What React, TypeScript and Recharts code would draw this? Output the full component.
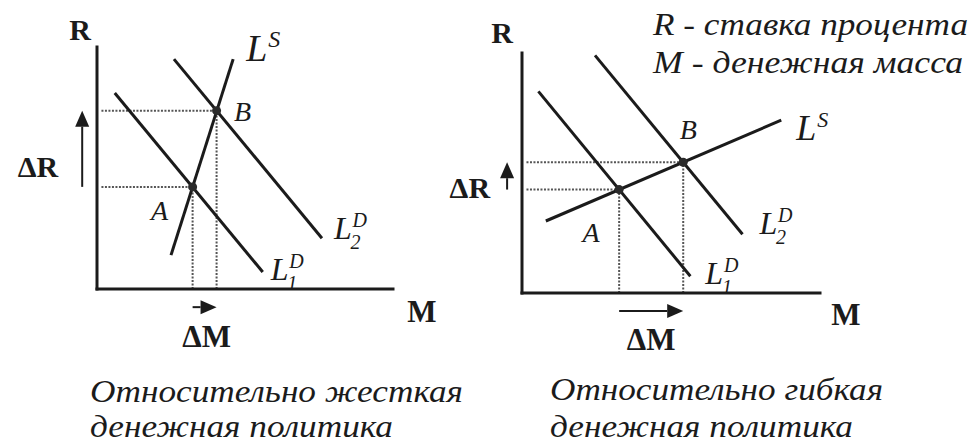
import React from 'react';
import { ComposedChart, Line, XAxis, YAxis, ReferenceLine, ReferenceDot } from 'recharts';

// both panels use chart units 0..10 on each axis
const rigidSupply = [{ x: 2.5, y: 1.4 }, { x: 4.6, y: 9.5 }];
const rigidDemand1 = [{ x: 0.6, y: 8.1 }, { x: 5.6, y: 0.7 }];
const rigidDemand2 = [{ x: 2.6, y: 9.5 }, { x: 7.6, y: 2.1 }];
const rigidEquilibrium = [{ x: 3.23, y: 4.22 }, { x: 4.04, y: 7.37 }];

const flexSupply = [{ x: 0.8, y: 3.0 }, { x: 8.7, y: 7.2 }];
const flexDemand1 = [{ x: 0.55, y: 8.4 }, { x: 5.65, y: 0.7 }];
const flexDemand2 = [{ x: 2.45, y: 9.9 }, { x: 7.4, y: 2.45 }];
const flexEquilibrium = [{ x: 3.26, y: 4.31 }, { x: 5.41, y: 5.45 }];

const pointNames = ['A', 'B'];
const curveSup = ['S', 'D', 'D'];
const curveSub = ['', '1', '2'];
const captionRigid = ['Относительно жесткая', 'денежная политика'];
const captionFlex = ['Относительно гибкая', 'денежная политика'];
const legendLines = ['R - ставка процента', 'M - денежная масса'];

const serif = 'Liberation Serif, Times New Roman, serif';
const ink = '#1b1b1b';
const guideInk = '#555';
const axisStyle = { stroke: ink, strokeWidth: 3, strokeLinecap: 'square' as const };

// arrow drawn from segment start to end, head at the end
const arrowShape = (props: any) => {
  const { x1, y1, x2, y2 } = props;
  const len = Math.hypot(x2 - x1, y2 - y1) || 1;
  const ux = (x2 - x1) / len;
  const uy = (y2 - y1) / len;
  const head = Math.min(16, len);
  const half = 7;
  const bx = x2 - ux * head;
  const by = y2 - uy * head;
  return (
    <g>
      <line x1={x1} y1={y1} x2={bx} y2={by} stroke={ink} strokeWidth={2} />
      <polygon
        points={`${x2},${y2} ${bx - uy * half},${by + ux * half} ${bx + uy * half},${by - ux * half}`}
        fill={ink}
      />
    </g>
  );
};

const centerOf = (p: any) => {
  const vb = p.viewBox || {};
  return { cx: (vb.x || 0) + (vb.width || 0) / 2, cy: (vb.y || 0) + (vb.height || 0) / 2 };
};

const plainText = (text: string, dx: number, dy: number, size: number, opts: any = {}) => (p: any) => {
  const { cx, cy } = centerOf(p);
  return (
    <text
      x={cx + dx}
      y={cy + dy}
      fontFamily={serif}
      fontSize={size}
      fill={ink}
      textAnchor={opts.anchor || 'middle'}
      fontWeight={opts.bold ? 700 : 400}
      fontStyle={opts.italic ? 'italic' : 'normal'}
    >
      {text}
    </text>
  );
};

const curveTag = (sup: string, sub: string, dx: number, dy: number, size: number) => (p: any) => {
  const { cx, cy } = centerOf(p);
  const x = cx + dx;
  const y = cy + dy;
  const small = Math.round(size * 0.62);
  const sx = x + size * 0.58;
  return (
    <g fontFamily={serif} fontStyle="italic" fill={ink}>
      <text x={x} y={y} fontSize={size}>L</text>
      <text x={sx} y={y - size * 0.38} fontSize={small}>{sup}</text>
      {sub ? <text x={sx - 2} y={y + size * 0.3} fontSize={small}>{sub}</text> : null}
    </g>
  );
};

type Offset = [number, number];

interface PanelProps {
  left: number;
  width: number;
  margin: { top: number; right: number; bottom: number; left: number };
  curves: { x: number; y: number }[][];
  equilibrium: { x: number; y: number }[];
  tagOffsets: Offset[];
  tagSizes: number[];
  pointOffsets: Offset[];
  rOffset: Offset;
  mOffset: Offset;
  dROffset: Offset;
  dMOffset: Offset;
}

function Panel(pp: PanelProps) {
  const [A, B] = pp.equilibrium;
  const guides = pp.equilibrium.flatMap((p, i) => [
    <ReferenceLine
      key={`h${i}`}
      segment={[{ x: 0.15, y: p.y }, { x: p.x, y: p.y }]}
      stroke={guideInk}
      strokeWidth={2}
      strokeDasharray="2 1.5"
      ifOverflow="visible"
    />,
    <ReferenceLine
      key={`v${i}`}
      segment={[{ x: p.x, y: 0 }, { x: p.x, y: p.y }]}
      stroke={guideInk}
      strokeWidth={2}
      strokeDasharray="2 1.5"
      ifOverflow="visible"
    />,
  ]);
  return (
    <div style={{ position: 'absolute', left: pp.left, top: 0 }}>
      <ComposedChart width={pp.width} height={360} margin={pp.margin}>
        <XAxis
          type="number"
          dataKey="x"
          domain={[0, 10]}
          allowDataOverflow
          height={1}
          tick={false}
          tickLine={false}
          axisLine={axisStyle}
        />
        <YAxis
          type="number"
          dataKey="y"
          domain={[0, 10]}
          allowDataOverflow
          width={1}
          tick={false}
          tickLine={false}
          axisLine={axisStyle}
        />
        {guides}
        {pp.curves.map((c, i) => (
          <Line
            key={`c${i}`}
            data={c}
            dataKey="y"
            type="linear"
            stroke={ink}
            strokeWidth={3}
            dot={false}
            activeDot={false}
            isAnimationActive={false}
          />
        ))}
        {pp.curves.map((c, i) => (
          <ReferenceDot
            key={`t${i}`}
            x={c[c.length - 1].x}
            y={c[c.length - 1].y}
            r={0}
            fill="none"
            stroke="none"
            ifOverflow="visible"
            label={{
              content: curveTag(curveSup[i], curveSub[i], pp.tagOffsets[i][0], pp.tagOffsets[i][1], pp.tagSizes[i]),
            }}
          />
        ))}
        {pp.equilibrium.map((p, i) => (
          <ReferenceDot
            key={`p${i}`}
            x={p.x}
            y={p.y}
            r={4.5}
            fill="#2a2a2a"
            stroke="none"
            ifOverflow="visible"
            label={{
              content: plainText(pointNames[i], pp.pointOffsets[i][0], pp.pointOffsets[i][1], 28, { italic: true }),
            }}
          />
        ))}
        <ReferenceLine
          segment={[{ x: -0.5, y: A.y }, { x: -0.5, y: B.y }]}
          shape={arrowShape}
          ifOverflow="visible"
          label={{ content: plainText('ΔR', pp.dROffset[0], pp.dROffset[1], 30, { bold: true, anchor: 'end' }) }}
        />
        <ReferenceLine
          segment={[{ x: A.x, y: -0.75 }, { x: B.x, y: -0.75 }]}
          shape={arrowShape}
          ifOverflow="visible"
          label={{ content: plainText('ΔM', pp.dMOffset[0], pp.dMOffset[1], 31, { bold: true }) }}
        />
        <ReferenceDot
          x={0}
          y={10}
          r={0}
          fill="none"
          stroke="none"
          ifOverflow="visible"
          label={{ content: plainText('R', pp.rOffset[0], pp.rOffset[1], 30, { bold: true }) }}
        />
        <ReferenceDot
          x={10}
          y={0}
          r={0}
          fill="none"
          stroke="none"
          ifOverflow="visible"
          label={{ content: plainText('M', pp.mOffset[0], pp.mOffset[1], 31, { bold: true }) }}
        />
      </ComposedChart>
    </div>
  );
}

export default function App() {
  const capStyle = { fontFamily: serif, fontStyle: 'italic', fontSize: 31, fill: ink } as const;
  return (
    <div style={{ position: 'absolute', left: 0, top: 0, width: 973, height: 443, background: '#fff', overflow: 'hidden' }}>
      <Panel
        left={0}
        width={480}
        margin={{ top: 47, left: 96, right: 87, bottom: 70 }}
        curves={[rigidSupply, rigidDemand1, rigidDemand2]}
        equilibrium={rigidEquilibrium}
        tagOffsets={[[13, 2], [8, 8], [12, 1]]}
        tagSizes={[38, 32, 32]}
        pointOffsets={[[-33, 33], [26, 10]]}
        rOffset={[-17, -7]}
        mOffset={[29, 33]}
        dROffset={[-24, 28]}
        dMOffset={[2, 40]}
      />
      <Panel
        left={430}
        width={543}
        margin={{ top: 53, left: 91, right: 153, bottom: 66 }}
        curves={[flexSupply, flexDemand1, flexDemand2]}
        equilibrium={flexEquilibrium}
        tagOffsets={[[15, 20], [15, 8], [17, 0]]}
        tagSizes={[36, 32, 32]}
        pointOffsets={[[-28, 52], [5, -23]]}
        rOffset={[-20, -10]}
        mOffset={[26, 32]}
        dROffset={[-17, 22]}
        dMOffset={[0, 39]}
      />
      <svg width={973} height={443} style={{ position: 'absolute', left: 0, top: 0, pointerEvents: 'none' }}>
        <text x={653} y={35} {...capStyle} textLength={315} lengthAdjust="spacingAndGlyphs">{legendLines[0]}</text>
        <text x={653} y={73} {...capStyle} textLength={310} lengthAdjust="spacingAndGlyphs">{legendLines[1]}</text>
        <text x={90} y={402} {...capStyle} textLength={373} lengthAdjust="spacingAndGlyphs">{captionRigid[0]}</text>
        <text x={90} y={437} {...capStyle} textLength={303} lengthAdjust="spacingAndGlyphs">{captionRigid[1]}</text>
        <text x={550} y={400} {...capStyle} textLength={333} lengthAdjust="spacingAndGlyphs">{captionFlex[0]}</text>
        <text x={550} y={437} {...capStyle} textLength={303} lengthAdjust="spacingAndGlyphs">{captionFlex[1]}</text>
      </svg>
    </div>
  );
}
